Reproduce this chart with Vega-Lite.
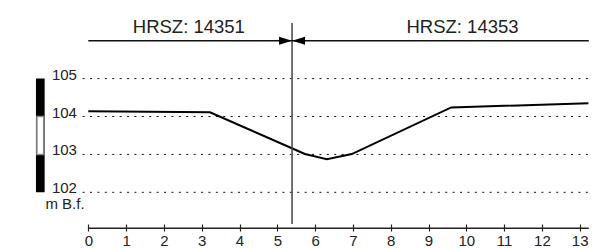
{
  "$schema": "https://vega.github.io/schema/vega-lite/v6.json",
  "width": 596,
  "height": 224,
  "autosize": {"type": "none"},
  "padding": {"left": 0, "top": 0, "right": 0, "bottom": 24},
  "background": "white",
  "config": {
    "view": {"stroke": null},
    "font": "Liberation Sans",
    "text": {"font": "Liberation Sans", "color": "#222"}
  },
  "datasets": {
    "profile": [
      {"dist": 0, "elev": 104.14},
      {"dist": 3.22, "elev": 104.11},
      {"dist": 5.73, "elev": 103.01},
      {"dist": 6.31, "elev": 102.87},
      {"dist": 6.97, "elev": 103.01},
      {"dist": 9.6, "elev": 104.24},
      {"dist": 13.23, "elev": 104.35}
    ],
    "grid": [
      {"level": 102},
      {"level": 103},
      {"level": 104},
      {"level": 105}
    ],
    "parcels": [
      {"label": "HRSZ: 14351", "from": 0, "to": 5.39, "mid": 2.66},
      {"label": "HRSZ: 14353", "from": 13.24, "to": 5.39, "mid": 9.9}
    ]
  },
  "layer": [
    {
      "data": {"name": "grid"},
      "mark": {"type": "rule", "color": "#111", "strokeWidth": 1, "strokeDash": [2, 5.4]},
      "encoding": {
        "x": {
          "datum": -0.15,
          "type": "quantitative",
          "scale": {"domain": [-2.336, 13.431], "nice": false, "zero": false},
          "axis": {
            "orient": "bottom",
            "values": [0, 1, 2, 3, 4, 5, 6, 7, 8, 9, 10, 11, 12, 13],
            "domain": false,
            "grid": false,
            "title": null,
            "tickSize": 7,
            "tickColor": "#222",
            "tickWidth": 1.2,
            "labelFontSize": 15,
            "labelColor": "#222",
            "labelFont": "Liberation Sans",
            "labelPadding": 2,
            "labelFlush": false,
            "labelOverlap": false,
            "format": "d"
          }
        },
        "x2": {"datum": 13.24},
        "y": {"field": "level", "type": "quantitative", "scale": {"domain": [101.164, 107.074], "nice": false, "zero": false}, "axis": null}
      }
    },
    {
      "data": {"name": "grid"},
      "mark": {"type": "text", "align": "right", "baseline": "alphabetic", "fontSize": 15, "dy": 1},
      "encoding": {
        "x": {"datum": -0.3, "type": "quantitative"},
        "y": {"field": "level", "type": "quantitative"},
        "text": {"field": "level", "type": "nominal"}
      }
    },
    {
      "data": {"values": [{"top": 105, "bottom": 102}]},
      "mark": {"type": "rect", "color": "black"},
      "encoding": {
        "x": {"datum": -1.385, "type": "quantitative"},
        "x2": {"datum": -1.155},
        "y": {"field": "top", "type": "quantitative"},
        "y2": {"field": "bottom"}
      }
    },
    {
      "data": {"values": [{"top": 104, "bottom": 103}]},
      "mark": {"type": "rect", "fill": "white", "stroke": "#888", "strokeWidth": 1.5},
      "encoding": {
        "x": {"datum": -1.36, "type": "quantitative"},
        "x2": {"datum": -1.18},
        "y": {"field": "top", "type": "quantitative"},
        "y2": {"field": "bottom"}
      }
    },
    {
      "data": {"values": [{"unit": "m B.f."}]},
      "mark": {"type": "text", "align": "center", "baseline": "alphabetic", "fontSize": 15},
      "encoding": {
        "x": {"datum": -0.616, "type": "quantitative"},
        "y": {"datum": 101.56, "type": "quantitative"},
        "text": {"field": "unit", "type": "nominal"}
      }
    },
    {
      "data": {"name": "profile"},
      "mark": {"type": "line", "color": "black", "strokeWidth": 2},
      "encoding": {
        "x": {"field": "dist", "type": "quantitative"},
        "y": {"field": "elev", "type": "quantitative"}
      }
    },
    {
      "data": {"values": [{"at": 5.39}]},
      "mark": {"type": "rule", "color": "#444", "strokeWidth": 1.5},
      "encoding": {
        "x": {"field": "at", "type": "quantitative"},
        "y": {"datum": 106.47, "type": "quantitative"},
        "y2": {"datum": 101.164}
      }
    },
    {
      "data": {"name": "parcels"},
      "mark": {"type": "rule", "color": "#111", "strokeWidth": 1.5},
      "encoding": {
        "x": {"field": "from", "type": "quantitative"},
        "x2": {"field": "to"},
        "y": {"datum": 106, "type": "quantitative"}
      }
    },
    {
      "data": {"values": [{"at": 5.39}]},
      "mark": {"type": "point", "filled": true, "color": "black", "opacity": 1, "size": 676, "shape": "M0,0L-1,-0.31L-1,0.31Z"},
      "encoding": {
        "x": {"field": "at", "type": "quantitative"},
        "y": {"datum": 106, "type": "quantitative"}
      }
    },
    {
      "data": {"values": [{"at": 5.39}]},
      "mark": {"type": "point", "filled": true, "color": "black", "opacity": 1, "size": 676, "shape": "M0,0L1,-0.31L1,0.31Z"},
      "encoding": {
        "x": {"field": "at", "type": "quantitative"},
        "y": {"datum": 106, "type": "quantitative"}
      }
    },
    {
      "data": {"name": "parcels"},
      "mark": {"type": "text", "align": "center", "baseline": "alphabetic", "fontSize": 18.5},
      "encoding": {
        "x": {"field": "mid", "type": "quantitative"},
        "y": {"datum": 106.21, "type": "quantitative"},
        "text": {"field": "label", "type": "nominal"}
      }
    },
    {
      "data": {"values": [{"from": 0, "to": 13.24}]},
      "mark": {"type": "rule", "color": "#222", "strokeWidth": 1.5},
      "encoding": {
        "x": {"field": "from", "type": "quantitative"},
        "x2": {"field": "to"},
        "y": {"datum": 101.05, "type": "quantitative"}
      }
    }
  ]
}
